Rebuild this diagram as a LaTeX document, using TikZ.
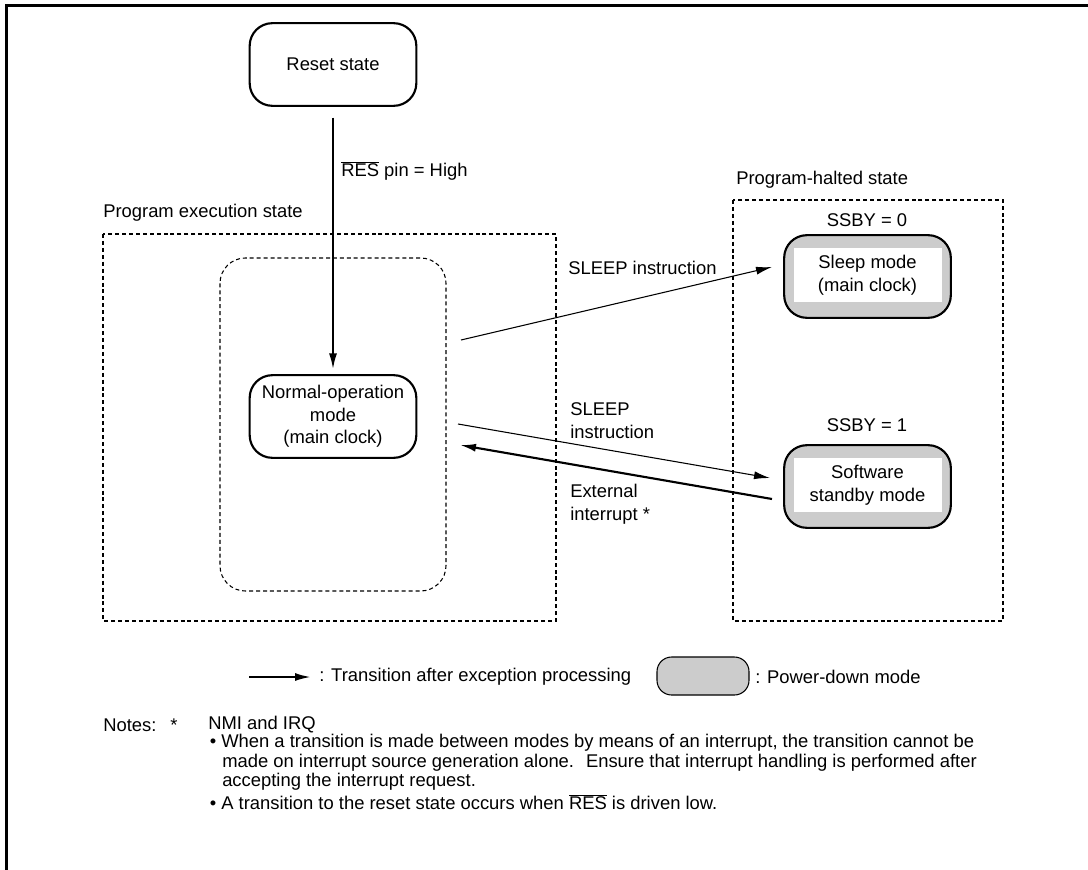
\documentclass[tikz,border=0pt]{standalone}
\usepackage{fontspec}
\setmainfont{Liberation Sans}
\usetikzlibrary{arrows.meta}

\tikzset{
  modebox/.style={draw, line width=1.6pt, rounded corners=17pt, minimum width=125pt, minimum height=62pt, inner sep=0pt, align=center},
  pdbox/.style={modebox, fill=gray!40},
  pdface/.style={fill=white, minimum width=111pt, minimum height=40pt, inner sep=0pt, align=center},
  region/.style={line width=0.8pt, dash pattern=on 3pt off 2.2pt},
  lbl/.style={anchor=west, inner sep=0pt, align=left},
  trans/.style={-{Latex[length=12pt,width=6pt]}, line width=0.8pt},
  exctrans/.style={trans, line width=1.6pt},
}

\begin{document}
\begin{tikzpicture}[x=0.75pt, y=-0.75pt, font=\fontsize{13.8}{17}\selectfont]
\useasboundingbox (0,0) rectangle (1088,870);

% Outer frame, cut off at the right and at the bottom
\begin{scope}
  \clip (0,0) rectangle (1088,870);
  \draw[line width=2.2pt] (6.5,5.5) rectangle (1100,900);
\end{scope}

% Regions
\draw[region] (103,234) rectangle (556,621); % program execution
\draw[region, rounded corners=19pt] (220,258) rectangle (446,591);
\draw[region] (733,200) rectangle (1003,621); % program halted
\node[lbl] (execlbl) at (103,213) {Program execution state};
\node[lbl] (haltlbl) at (736,180) {Program-halted state};

% States
\node[modebox] (reset) at (333,64.5) {Reset state};
\node[modebox] (normal) at (333,416.5) {Normal-operation\\mode\\(main clock)};

% Power-down modes
\node (ssby0) at (867,220) {SSBY = 0};
\node[pdbox] (sleep) at (867.5,276.5) {};
\node[pdface] (sleeptxt) at (867.5,275) {Sleep mode\\(main clock)};

\node (ssby1) at (867,425) {SSBY = 1};
\node[pdbox] (standby) at (867.5,486.5) {};
\node[pdface] (standbytxt) at (867.5,485) {Software\\standby mode};

% Reset release
\draw[exctrans, shorten <=8pt, shorten >=3.5pt] (reset) -- (normal);
\node[lbl] (reslbl) at (341,171) {$\overline{\mbox{RES}}$ pin = High};

% Transitions
\coordinate (sleepA) at (461,340);
\coordinate (sleepB) at (772,267);
\draw[trans] (sleepA) -- (sleepB);
\node[lbl] (sleeplbl) at (568,268) {SLEEP instruction};

\coordinate (stbyA) at (458,424);
\coordinate (stbyB) at (770,478);
\draw[trans] (stbyA) -- (stbyB);
\node[lbl] (stbylbl) at (570,420.5) {SLEEP\\instruction};

\coordinate (wakeA) at (772,499);
\coordinate (wakeB) at (460,445);
\draw[exctrans] (wakeA) -- (wakeB);
\node[lbl] (wakelbl) at (570,504) {External\\interrupt *};

% Legend
\coordinate (legA) at (249,677);
\coordinate (legB) at (311,677);
\draw[exctrans] (legA) -- (legB);
\node[lbl] (legtrans) at (319,677) {: Transition after exception processing};
\node[draw, fill=gray!40, line width=0.8pt, rounded corners=11pt, minimum width=69pt, minimum height=28.5pt] (legpd) at (703,676) {};
\node[lbl] (legpdlbl) at (755,677) {: Power-down mode};

% Notes
\node[lbl] (notes) at (103,725) {Notes:};
\node[lbl] (star) at (170,725) {*};
\node[lbl] (nmi) at (208,725) {NMI and IRQ};
\node[lbl] (notea1) at (209.5,743) {\textbullet\ When a transition is made between modes by means of an interrupt, the transition cannot be};
\node[lbl] (notea2) at (222,763) {made on interrupt source generation alone.~ Ensure that interrupt handling is performed after};
\node[lbl] (notea3) at (222,782) {accepting the interrupt request.};
\node[lbl] (noteb1) at (209.5,802) {\textbullet\ A transition to the reset state occurs when $\overline{\mbox{RES}}$ is driven low.};
\end{tikzpicture}
\end{document}
